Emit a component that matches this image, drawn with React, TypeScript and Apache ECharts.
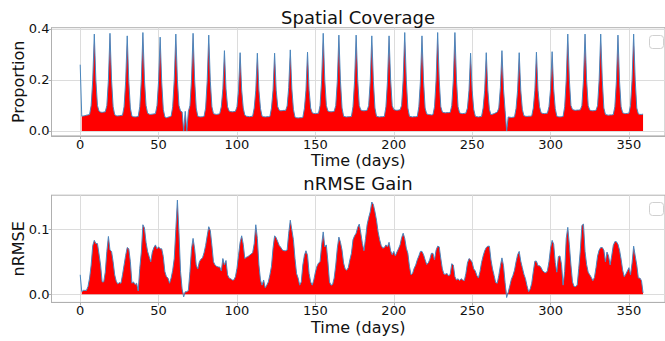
import React, { useEffect, useRef } from "react";
import * as echarts from "echarts";

// Daily values, day 0..359
const coverage: number[] = [
  0.260,0.058,0.059,0.060,0.062,0.063,0.065,0.100,0.200,0.380,
  0.200,0.100,0.078,0.074,0.073,0.074,0.075,0.100,0.200,0.383,
  0.200,0.095,0.064,0.060,0.059,0.060,0.061,0.062,0.095,0.195,
  0.373,0.195,0.090,0.058,0.056,0.055,0.056,0.057,0.095,0.200,
  0.386,0.200,0.100,0.070,0.066,0.065,0.066,0.067,0.068,0.100,
  0.195,0.368,0.190,0.085,0.055,0.052,0.054,0.056,0.058,0.095,
  0.200,0.380,0.200,0.100,0.078,0.075,0.000,0.077,0.000,0.076,
  0.100,0.200,0.383,0.200,0.090,0.058,0.056,0.055,0.056,0.057,
  0.090,0.195,0.376,0.195,0.095,0.068,0.066,0.065,0.066,0.068,
  0.095,0.165,0.315,0.165,0.095,0.078,0.076,0.075,0.076,0.077,
  0.095,0.160,0.307,0.160,0.090,0.062,0.058,0.057,0.056,0.057,
  0.058,0.090,0.160,0.305,0.160,0.088,0.058,0.056,0.055,0.056,
  0.056,0.057,0.090,0.160,0.305,0.160,0.095,0.081,0.079,0.080,
  0.081,0.080,0.098,0.170,0.318,0.165,0.085,0.054,0.052,0.051,
  0.052,0.052,0.053,0.088,0.160,0.309,0.160,0.090,0.071,0.069,
  0.068,0.069,0.070,0.100,0.200,0.383,0.200,0.100,0.078,0.076,
  0.075,0.076,0.077,0.100,0.195,0.376,0.195,0.090,0.058,0.056,
  0.055,0.056,0.056,0.057,0.095,0.195,0.376,0.200,0.100,0.082,
  0.080,0.079,0.080,0.081,0.100,0.195,0.373,0.195,0.090,0.058,
  0.056,0.055,0.056,0.056,0.057,0.095,0.195,0.373,0.200,0.100,
  0.084,0.082,0.081,0.082,0.083,0.100,0.200,0.386,0.200,0.090,
  0.058,0.056,0.055,0.056,0.056,0.057,0.095,0.195,0.373,0.195,
  0.090,0.067,0.065,0.064,0.063,0.064,0.095,0.200,0.386,0.200,
  0.095,0.074,0.072,0.071,0.072,0.072,0.073,0.100,0.200,0.386,
  0.200,0.095,0.071,0.069,0.068,0.069,0.070,0.090,0.160,0.305,
  0.160,0.085,0.058,0.056,0.055,0.056,0.057,0.090,0.160,0.307,
  0.160,0.085,0.064,0.066,0.068,0.071,0.074,0.090,0.170,0.315,
  0.165,0.080,0.000,0.055,0.054,0.053,0.054,0.055,0.088,0.160,
  0.307,0.160,0.085,0.060,0.058,0.057,0.058,0.058,0.059,0.090,
  0.160,0.309,0.160,0.095,0.071,0.069,0.068,0.069,0.070,0.095,
  0.165,0.311,0.165,0.088,0.058,0.056,0.055,0.056,0.057,0.095,
  0.200,0.380,0.200,0.100,0.084,0.082,0.081,0.082,0.082,0.083,
  0.100,0.200,0.380,0.200,0.100,0.082,0.080,0.079,0.080,0.081,
  0.100,0.200,0.380,0.200,0.090,0.065,0.063,0.062,0.063,0.063,
  0.064,0.095,0.195,0.376,0.195,0.095,0.071,0.069,0.068,0.069,
  0.070,0.100,0.200,0.380,0.200,0.090,0.067,0.065,0.065,0.066,
];

const nrmseGain: number[] = [
  0.030,0.004,0.006,0.006,0.006,0.012,0.025,0.045,0.075,0.083,
  0.078,0.078,0.062,0.045,0.019,0.019,0.034,0.066,0.089,0.068,
  0.066,0.050,0.030,0.020,0.016,0.018,0.017,0.030,0.045,0.060,
  0.072,0.070,0.050,0.017,0.019,0.015,0.017,0.005,0.040,0.065,
  0.107,0.102,0.080,0.066,0.058,0.050,0.065,0.072,0.076,0.070,
  0.073,0.070,0.070,0.058,0.035,0.027,0.025,0.017,0.025,0.037,
  0.055,0.100,0.145,0.095,0.035,0.008,-0.004,0.004,0.004,0.006,
  0.035,0.070,0.086,0.070,0.045,0.039,0.050,0.054,0.056,0.064,
  0.075,0.090,0.104,0.098,0.075,0.050,0.045,0.043,0.042,0.042,
  0.036,0.055,0.045,0.052,0.030,0.025,0.024,0.022,0.022,0.027,
  0.040,0.060,0.080,0.090,0.077,0.055,0.057,0.058,0.060,0.062,
  0.064,0.078,0.107,0.086,0.045,0.022,0.014,0.022,0.010,0.014,
  0.019,0.030,0.043,0.071,0.090,0.087,0.081,0.075,0.072,0.068,
  0.067,0.067,0.068,0.094,0.114,0.099,0.084,0.055,0.032,0.025,
  0.014,0.019,0.045,0.060,0.067,0.060,0.032,0.019,0.014,0.022,
  0.034,0.043,0.048,0.050,0.076,0.096,0.073,0.076,0.050,0.019,
  0.014,0.015,0.025,0.045,0.071,0.088,0.080,0.068,0.048,0.039,
  0.037,0.041,0.053,0.063,0.084,0.090,0.094,0.103,0.108,0.094,
  0.078,0.067,0.086,0.107,0.118,0.127,0.142,0.138,0.127,0.114,
  0.096,0.084,0.075,0.071,0.072,0.076,0.073,0.080,0.067,0.061,
  0.066,0.059,0.065,0.070,0.076,0.087,0.094,0.086,0.071,0.063,
  0.043,0.030,0.032,0.040,0.045,0.053,0.059,0.066,0.066,0.061,
  0.053,0.046,0.048,0.054,0.063,0.063,0.053,0.068,0.074,0.073,
  0.055,0.039,0.031,0.031,0.032,0.028,0.031,0.047,0.045,0.027,
  0.022,0.024,0.021,0.024,0.022,0.021,0.032,0.048,0.055,0.053,
  0.049,0.039,0.036,0.029,0.025,0.035,0.049,0.059,0.067,0.072,
  0.074,0.074,0.053,0.039,0.029,0.018,0.017,0.029,0.044,0.056,
  0.044,0.018,-0.005,0.003,0.013,0.023,0.029,0.037,0.050,0.061,
  0.066,0.051,0.041,0.031,0.024,0.013,0.004,0.008,0.017,0.035,
  0.051,0.051,0.044,0.044,0.041,0.036,0.034,0.033,0.036,0.050,
  0.071,0.083,0.077,0.049,0.034,0.058,0.059,0.046,0.014,0.035,
  0.086,0.103,0.076,0.045,0.019,0.012,0.012,0.014,0.040,0.068,
  0.106,0.108,0.066,0.046,0.034,0.030,0.026,0.021,0.026,0.041,
  0.059,0.068,0.072,0.072,0.068,0.050,0.065,0.059,0.045,0.059,
  0.075,0.081,0.081,0.077,0.068,0.054,0.037,0.027,0.031,0.036,
  0.041,0.030,0.048,0.074,0.059,0.045,0.025,0.025,0.021,0.002,
];

const xTicks = [0, 50, 100, 150, 200, 250, 300, 350];
const covTicks = [0, 0.2, 0.4];
const gainTicks = [0, 0.1];

const FONT = "DejaVu Sans";
const SPINE = "#b0b0b0";
const GRIDC = "#dcdcdc";
const LINEC = "#4a86bd";

function xAxisCfg(gridIndex: number) {
  return {
    type: "value",
    gridIndex,
    min: -18.3,
    max: 373,
    name: "Time (days)",
    nameLocation: "middle",
    nameGap: 17,
    nameMoveOverlap: false,
    nameTextStyle: { fontFamily: FONT, fontSize: 16, color: "#111" },
    axisLine: { show: true, onZero: false, lineStyle: { color: SPINE, width: 1 } },
    axisTick: { show: true, customValues: xTicks, length: 3, lineStyle: { color: SPINE } },
    axisLabel: { customValues: xTicks, fontFamily: FONT, fontSize: 13, color: "#111", margin: 2, formatter: (v: number) => String(v) },
    splitLine: { show: true, lineStyle: { color: GRIDC, width: 1 } },
  };
}

function yAxisCfg(gridIndex: number, min: number, max: number, ticks: number[], name: string) {
  return {
    type: "value",
    gridIndex,
    min,
    max,
    name,
    nameLocation: "middle",
    nameGap: 25,
    nameMoveOverlap: false,
    nameTextStyle: { fontFamily: FONT, fontSize: 16, color: "#111" },
    axisLine: { show: true, onZero: false, lineStyle: { color: SPINE, width: 1 } },
    axisTick: { show: true, customValues: ticks, length: 3, lineStyle: { color: SPINE } },
    axisLabel: { customValues: ticks, fontFamily: FONT, fontSize: 13, color: "#111", margin: 2, formatter: (v: number) => v.toFixed(1) },
    splitLine: { show: true, lineStyle: { color: GRIDC, width: 1 } },
  };
}

export default function App() {
  const ref = useRef<HTMLDivElement>(null);
  useEffect(() => {
    if (!ref.current) return;
    const chart = echarts.init(ref.current, null, { renderer: "svg" });
    const covLine = coverage.map((v, i) => [i, v]);
    const covFill = coverage.map((v, i) => [i, v]).slice(1);
    const gainLine = nrmseGain.map((v, i) => [i, v]);
    const gainFill = nrmseGain.map((v, i) => [i, Math.max(v, 0)]).slice(1);
    chart.setOption({
      animation: false,
      backgroundColor: "#ffffff",
      grid: [
        { left: 51.5, right: 0, top: 27.7, height: 108.2, show: true, borderColor: SPINE, borderWidth: 1, containLabel: false, outerBoundsMode: "none" },
        { left: 51.5, right: 0, top: 195.2, height: 107.2, show: true, borderColor: SPINE, borderWidth: 1, containLabel: false, outerBoundsMode: "none" },
      ],
      xAxis: [xAxisCfg(0), xAxisCfg(1)],
      yAxis: [
        yAxisCfg(0, -0.0193, 0.405, covTicks, "Proportion"),
        yAxisCfg(1, -0.0125, 0.1525, gainTicks, "nRMSE"),
      ],
      series: [
        {
          type: "line", xAxisIndex: 0, yAxisIndex: 0, data: covFill, showSymbol: false,
          lineStyle: { width: 0 }, areaStyle: { color: "#ff0000", opacity: 1 }, z: 2, silent: true,
        },
        {
          type: "line", xAxisIndex: 0, yAxisIndex: 0, data: covLine, showSymbol: false,
          lineStyle: { width: 1, color: LINEC }, z: 3, silent: true,
        },
        {
          type: "line", xAxisIndex: 1, yAxisIndex: 1, data: gainFill, showSymbol: false,
          lineStyle: { width: 0 }, areaStyle: { color: "#ff0000", opacity: 1 }, z: 2, silent: true,
        },
        {
          type: "line", xAxisIndex: 1, yAxisIndex: 1, data: gainLine, showSymbol: false,
          lineStyle: { width: 1, color: LINEC }, z: 3, silent: true,
        },
      ],
      graphic: [
        { type: "text", x: 358, y: 17, style: { text: "Spatial Coverage", font: `18px '${FONT}'`, fill: "#111", textAlign: "center", textVerticalAlign: "middle" } },
        { type: "text", x: 358, y: 183, style: { text: "nRMSE Gain", font: `18px '${FONT}'`, fill: "#111", textAlign: "center", textVerticalAlign: "middle" } },
        { type: "rect", shape: { x: 649.5, y: 35.5, width: 14, height: 13, r: 3 }, style: { fill: "#fff", stroke: "#d0d0d0", lineWidth: 1 } },
        { type: "rect", shape: { x: 649.5, y: 202.5, width: 14, height: 13, r: 3 }, style: { fill: "#fff", stroke: "#d0d0d0", lineWidth: 1 } },
      ],
    });
    return () => chart.dispose();
  }, []);
  return <div ref={ref} style={{ position: "absolute", left: 0, top: 0, width: 665, height: 341 }} />;
}
